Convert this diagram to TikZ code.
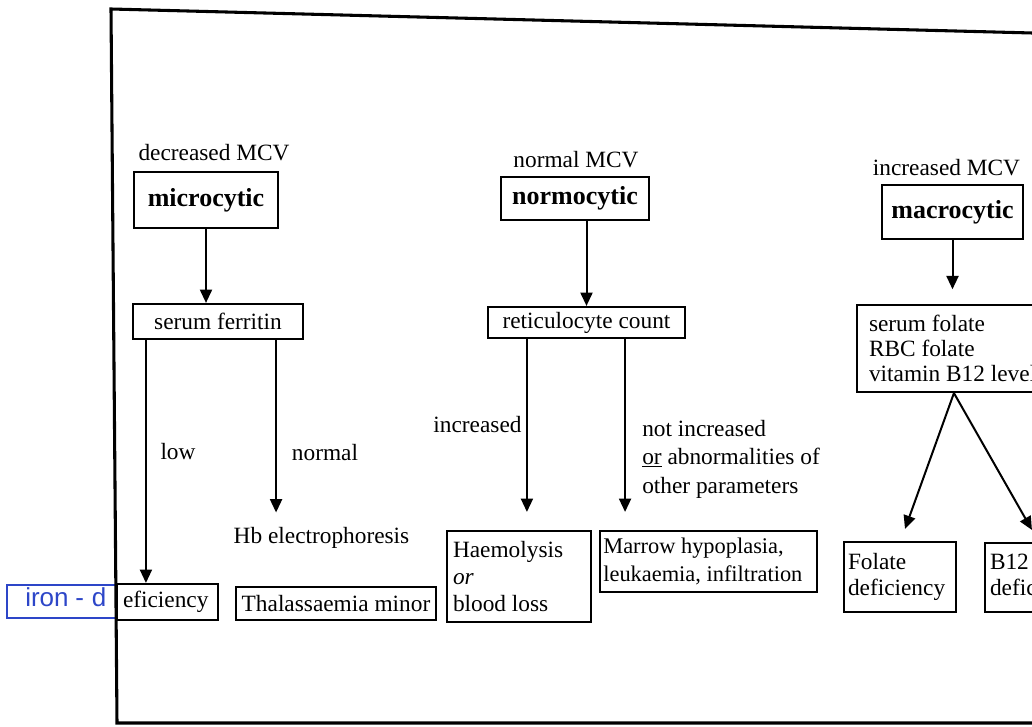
\documentclass[tikz,border=0pt]{standalone}
\usepackage{fontspec}
\setmainfont{Liberation Serif}
\newfontfamily\handfont{Liberation Sans}
\usetikzlibrary{arrows.meta,calc}
\definecolor{pen}{RGB}{45,70,200}
\begin{document}
\begin{tikzpicture}[x=0.75pt,y=-0.75pt,
  box/.style={draw,line width=1.6pt,inner sep=0pt,font=\fontsize{17.5}{21}\selectfont},
  title/.style={box,font=\fontsize{19.5}{23}\selectfont\bfseries},
  lbl/.style={inner sep=0pt,font=\fontsize{17.5}{21}\selectfont},
  arr/.style={line width=1.5pt,-{Triangle[length=10pt,width=9pt]}},
  frame/.style={line width=2.3pt}]
\useasboundingbox (0,0) rectangle (1032,727);
\clip (0,0) rectangle (1032,727);

% column titles
\node[lbl] (dec) at (214,153) {decreased MCV};
\node[lbl] (nor) at (576,160) {normal MCV};
\node[lbl] (inc) at (946.5,168) {increased MCV};

\node[title,minimum width=108pt,minimum height=42pt] (micro) at (206,200) {microcytic};
\node[title,minimum width=111pt,minimum height=32.25pt] (normo) at (575,198.5) {normocytic};
\node[title,minimum width=105.75pt,minimum height=40.5pt] (macro) at (952.5,212) {macrocytic};

% second row
\node[box,minimum height=65.25pt,inner xsep=9pt,text width=141.75pt,align=flush left,
      font=\fontsize{17.5}{18.75}\selectfont] (tests) at (963.5,348.5)
      {serum folate\\RBC folate\\vitamin B12 levels};
\node[box,minimum width=127.5pt,minimum height=26.25pt] (ferr) at (218,321.5) {serum ferritin};
\node[box,minimum width=147.75pt,minimum height=23.25pt] (retic) at (586.5,322.5) {reticulocyte count};

% branch labels
\node[lbl] (low) at (178,452) {low};
\node[lbl] (nrm) at (325,453) {normal};
\node[lbl] (hb) at (321.5,538) {Hb electrophoresis};
\node[lbl] (incd) at (477.5,425) {increased};
\node[lbl,anchor=west,align=left,font=\fontsize{17.5}{21.4}\selectfont] (notinc) at (642,459)
      {not increased\\\underline{or} abnormalities of\\other parameters};

% bottom row
\node[draw=pen,line width=1.2pt,minimum width=82.5pt,minimum height=24.75pt,inner sep=0pt] (irond) at (62,601.5) {};
\node[anchor=base west,inner sep=0pt,text=pen,font=\handfont\fontsize{19.5}{21}\selectfont] (irontxt) at (25,606) {iron\kern5pt -\kern6pt d};
\node[box,minimum height=27pt,inner xsep=4.5pt,text width=66.75pt,align=flush left] (efic) at (167.5,602) {eficiency};
\node[box,minimum width=150pt,minimum height=24.75pt] (thal) at (336,603.5) {Thalassaemia minor};
\node[box,minimum height=68.25pt,inner xsep=4.5pt,text width=99pt,align=flush left,
      font=\fontsize{17.5}{20.6}\selectfont] (haem) at (519,576.5)
      {Haemolysis\\\textit{or}\\blood loss};
\node[box,minimum height=45.75pt,inner xsep=2.5pt,text width=157.75pt,align=flush left,
      font=\fontsize{16.8}{21}\selectfont] (marrow) at (708.5,561.5)
      {Marrow hypoplasia,\\leukaemia, infiltration};
\node[box,minimum height=52.5pt,inner xsep=3pt,text width=78pt,align=flush left,
      font=\fontsize{17.5}{19.5}\selectfont] (folate) at (900,577) {Folate\\deficiency};
\node[box,minimum height=51.75pt,inner xsep=3.75pt,text width=86.25pt,align=flush left,
      font=\fontsize{17.5}{19.5}\selectfont] (b12) at (1047.5,577.5) {B12\\deficiency};

% connectors
\draw[arr] (micro.south) -- (micro.south |- ferr.north);
\draw[arr] (retic.north |- normo.south) -- (retic.north);
\draw[arr,shorten >=11pt] (macro.south) -- (macro.south |- tests.north);

\coordinate (lowa) at ($(ferr.south west)+(14,0)$);
\draw[arr] (lowa) -- (lowa |- efic.north);
\coordinate (nrma) at ($(ferr.south east)+(-28,0)$);
\draw[arr,shorten >=11pt] (nrma) -- (nrma |- hb.north);

\coordinate (ia) at ($(retic.south west)+(40,0)$);
\draw[arr,shorten >=13.5pt] (ia) -- (ia |- haem.north);
\coordinate (na) at ($(retic.south east)+(-61,0)$);
\draw[arr,shorten >=13.5pt] (na) -- (na |- marrow.north);

\coordinate (split) at ($(tests.south west)+(98,0)$);
\draw[arr] (split) -- ($(folate.north)+(5,-12)$);
\draw[arr] (split) -- ($(b12.north west)+(48,-12)$);

% photographed frame
\draw[frame] (1040,33.2) -- (111,9) -- (117,723) -- (1040,723);
\end{tikzpicture}
\end{document}
